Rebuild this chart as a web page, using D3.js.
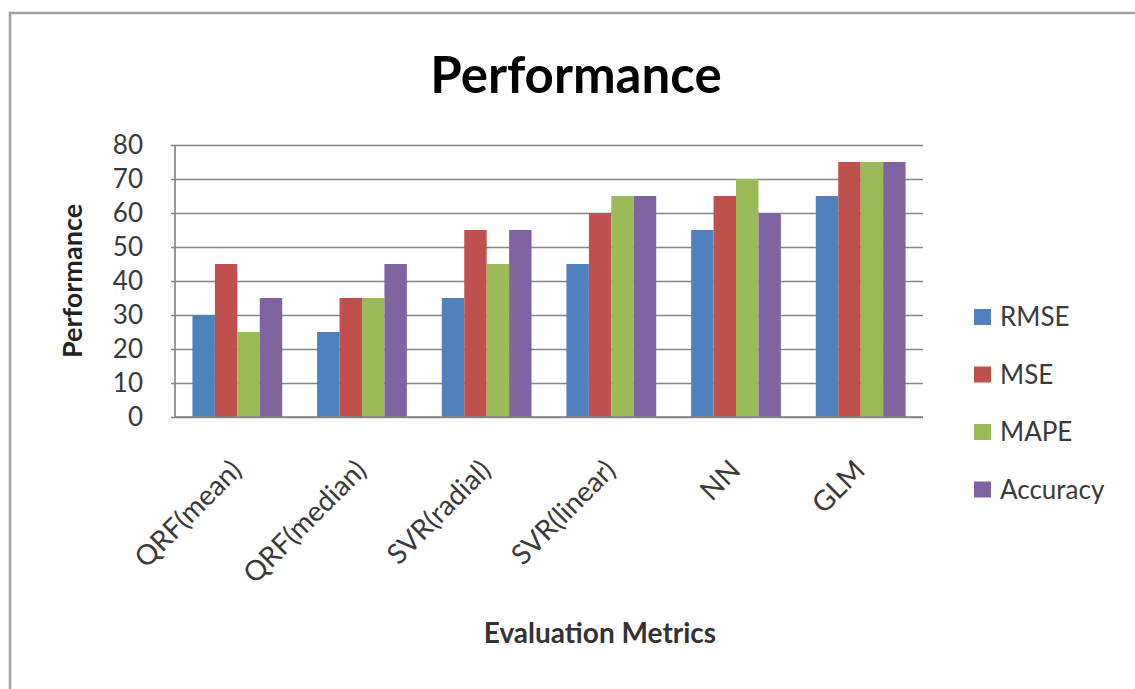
<!DOCTYPE html>
<html>
<head>
<meta charset="utf-8">
<script src="https://cdn.jsdelivr.net/npm/d3@7"></script>
<style>
  body { margin: 0; background: #fff; }
  text { font-family: Lato, "Open Sans", sans-serif; }
</style>
</head>
<body>
<svg id="my_svg"></svg>
<script>
var width = 1135, height = 689;
var svg = d3.select("#my_svg").attr("width", width).attr("height", height);

// data
var categories = ["QRF(mean)", "QRF(median)", "SVR(radial)", "SVR(linear)", "NN", "GLM"];
var seriesNames = ["RMSE", "MSE", "MAPE", "Accuracy"];
var rmse = [30, 25, 35, 45, 55, 65];
var mse = [45, 35, 55, 60, 65, 75];
var mape = [25, 35, 45, 65, 70, 75];
var accuracy = [35, 45, 55, 65, 60, 75];
var yTicks = [0, 10, 20, 30, 40, 50, 60, 70, 80];
var colors = ["#4F81BD", "#C0504D", "#9BBB59", "#8064A2"];

var seriesValues = [rmse, mse, mape, accuracy];
var rows = categories.map(function (c, i) {
  return { cat: c, vals: seriesNames.map(function (s, j) { return { key: s, value: seriesValues[j][i] } }) }
})

// outer frame
svg.append("rect")
  .attr("x", 10).attr("y", 13)
  .attr("width", width + 20).attr("height", height + 20)
  .attr("fill", "none")
  .attr("stroke", "#a0a0a0")
  .attr("stroke-width", 2.5)

var plot = { left: 175, right: 923, top: 145, bottom: 417 };

var x0 = d3.scaleBand()
  .domain(categories)
  .range([plot.left, plot.right])
  .paddingInner(0.28)
  .paddingOuter(0.14);

var x1 = d3.scaleBand()
  .domain(seriesNames)
  .range([0, x0.bandwidth()]);

var y = d3.scaleLinear()
  .domain([0, 80])
  .range([plot.bottom, plot.top]);

var color = d3.scaleOrdinal().domain(seriesNames).range(colors);

// gridlines + y labels
var yAxis = d3.axisLeft(y)
  .tickValues(yTicks)
  .tickSize(-(plot.right - plot.left) - 4)
  .tickPadding(28);

var gy = svg.append("g")
  .attr("transform", "translate(" + (plot.left - 4) + ",0)")
  .call(yAxis);
gy.select(".domain").remove();
gy.selectAll(".tick line").attr("stroke", "#858585").attr("stroke-width", 1.7);
gy.selectAll(".tick text")
  .attr("fill", "#3a3a3a")
  .style("font-size", "26px");

// axis lines
svg.append("line")
  .attr("x1", plot.left).attr("x2", plot.left)
  .attr("y1", plot.top).attr("y2", plot.bottom)
  .attr("stroke", "#858585").attr("stroke-width", 1.7);

// bars
var groups = svg.selectAll(".grp")
  .data(rows)
  .enter().append("g")
  .attr("class", "grp")
  .attr("transform", function (d) { return "translate(" + x0(d.cat) + ",0)" });

groups.selectAll("rect")
  .data(function (d) { return d.vals })
  .enter().append("rect")
  .attr("x", function (d) { return x1(d.key) })
  .attr("y", function (d) { return y(d.value) })
  .attr("width", x1.bandwidth())
  .attr("height", function (d) { return y(0) - y(d.value) })
  .attr("fill", function (d) { return color(d.key) });

svg.append("line")
  .attr("x1", plot.left).attr("x2", plot.right)
  .attr("y1", plot.bottom).attr("y2", plot.bottom)
  .attr("stroke", "#858585").attr("stroke-width", 1.7);

// x labels rotated
svg.selectAll(".xlab")
  .data(categories)
  .enter().append("text")
  .attr("class", "xlab")
  .attr("text-anchor", "end")
  .attr("transform", function (d) {
    return "translate(" + (x0(d) + x0.bandwidth() / 2 + 6) + ",472) rotate(-45)"
  })
  .attr("fill", "#3a3a3a")
  .style("font-size", "28px")
  .text(function (d) { return d });

// title
svg.append("text")
  .attr("x", 576).attr("y", 93)
  .attr("text-anchor", "middle")
  .style("font-size", "51px")
  .style("font-weight", "bold")
  .attr("fill", "#000")
  .text("Performance");

// axis titles
svg.append("text")
  .attr("transform", "translate(82,281) rotate(-90)")
  .attr("text-anchor", "middle")
  .style("font-size", "27px")
  .style("font-weight", "bold")
  .attr("fill", "#222")
  .text("Performance");

svg.append("text")
  .attr("x", 600).attr("y", 643)
  .attr("text-anchor", "middle")
  .style("font-size", "28px")
  .style("font-weight", "bold")
  .attr("fill", "#333")
  .text("Evaluation Metrics");

// legend
var legend = svg.selectAll(".leg")
  .data(seriesNames)
  .enter().append("g")
  .attr("class", "leg")
  .attr("transform", function (d, i) { return "translate(974," + (317 + i * 57.5) + ")" });

legend.append("rect")
  .attr("x", 0).attr("y", -8)
  .attr("width", 17).attr("height", 16)
  .attr("fill", function (d) { return color(d) });

legend.append("text")
  .attr("x", 26).attr("y", 9)
  .attr("fill", "#3a3a3a")
  .style("font-size", "26px")
  .text(function (d) { return d });
</script>
</body>
</html>
